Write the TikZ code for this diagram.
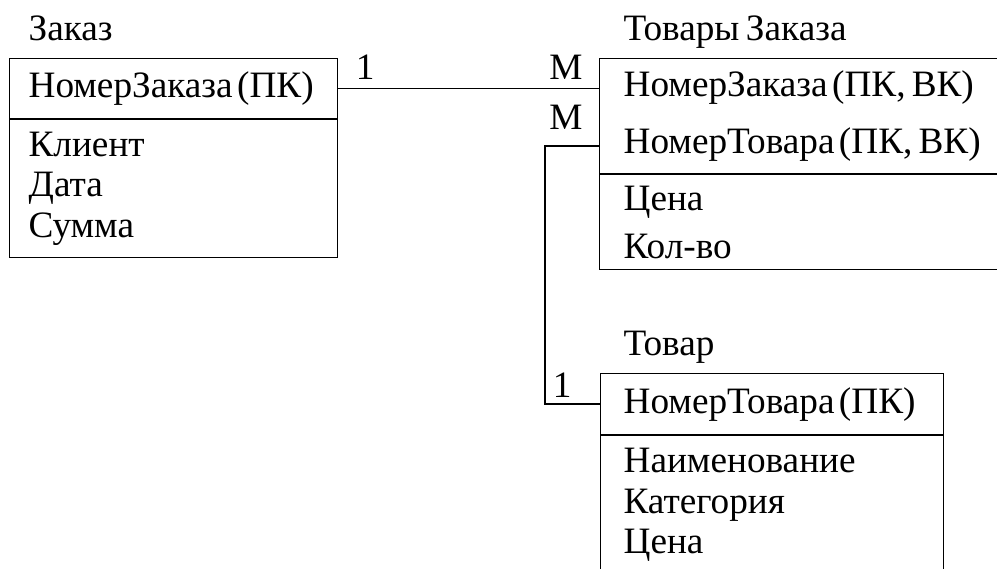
\documentclass[tikz,border=0pt]{standalone}
\usepackage{fontspec}
\setmainfont{Liberation Serif}[WordSpace=0.7]
\usetikzlibrary{positioning}
\newcommand{\kspace}{\hspace{0.12em}}

\begin{document}
\begin{tikzpicture}[x=0.02cm,y=-0.02cm,line width=0.7pt,
  every node/.style={font=\fontsize{21.2}{22.8}\selectfont},
  title/.style={anchor=base west,inner sep=0pt},
  tbl/.style={draw,anchor=north west,align=left,inner ysep=0pt,minimum height=#1},
  card/.style={inner sep=0pt}]
\useasboundingbox (0,0) rectangle (997,568);
% Заказ
\node[title] (zkTitle) at (28,40) {Заказ};
\node[tbl=1.2cm,inner xsep=0.38cm,text width=5.8cm] (zkKey) at (9,58) {\mbox{НомерЗаказа\kspace(ПК)}};
\node[tbl=2.76cm,inner xsep=0.38cm,text width=5.8cm] (zkAttr) at (zkKey.south west) {Клиент\\Дата\\Сумма};
% Товары Заказа
\node[title] (tzTitle) at (623,40) {Товары Заказа};
\node[tbl=2.3cm,inner xsep=0.48cm,text width=7.84cm] (tzKey) at (599,58) {НомерЗаказа\kspace(ПК,\,ВК)\\[9.6pt]НомерТовара\kspace(ПК,\,ВК)};
\node[tbl=1.9cm,inner xsep=0.48cm,text width=7.84cm] (tzAttr) at (tzKey.south west) {Цена\\[4.5pt]Кол-во};
\coordinate (tzPort2) at (599,146);
% Товар
\node[title] (tvTitle) at (623,355) {Товар};
\node[tbl=1.22cm,inner xsep=0.46cm,text width=5.94cm] (tvKey) at (600,373) {\mbox{НомерТовара\kspace(ПК)}};
\node[tbl=2.76cm,inner xsep=0.46cm,text width=5.94cm] (tvAttr) at (tvKey.south west) {Наименование\\Категория\\Цена};
% связи
\draw (zkKey.east) -- (tzKey.west |- zkKey.east);
\draw (tzPort2) -- ++(-54,0) |- (tvKey.west);
\node[card,above right=0.16cm and 0.34cm of zkKey.east] (c1) {1};
\node[card,above left=0.16cm and 0.32cm of tzKey.west |- zkKey.east] (m1) {М};
\node[card,above left=0.32cm and 0.32cm of tzPort2] (m2) {М};
\node[card,above left=0.13cm and 0.56cm of tvKey.west] (c2) {1};
\end{tikzpicture}
\end{document}
